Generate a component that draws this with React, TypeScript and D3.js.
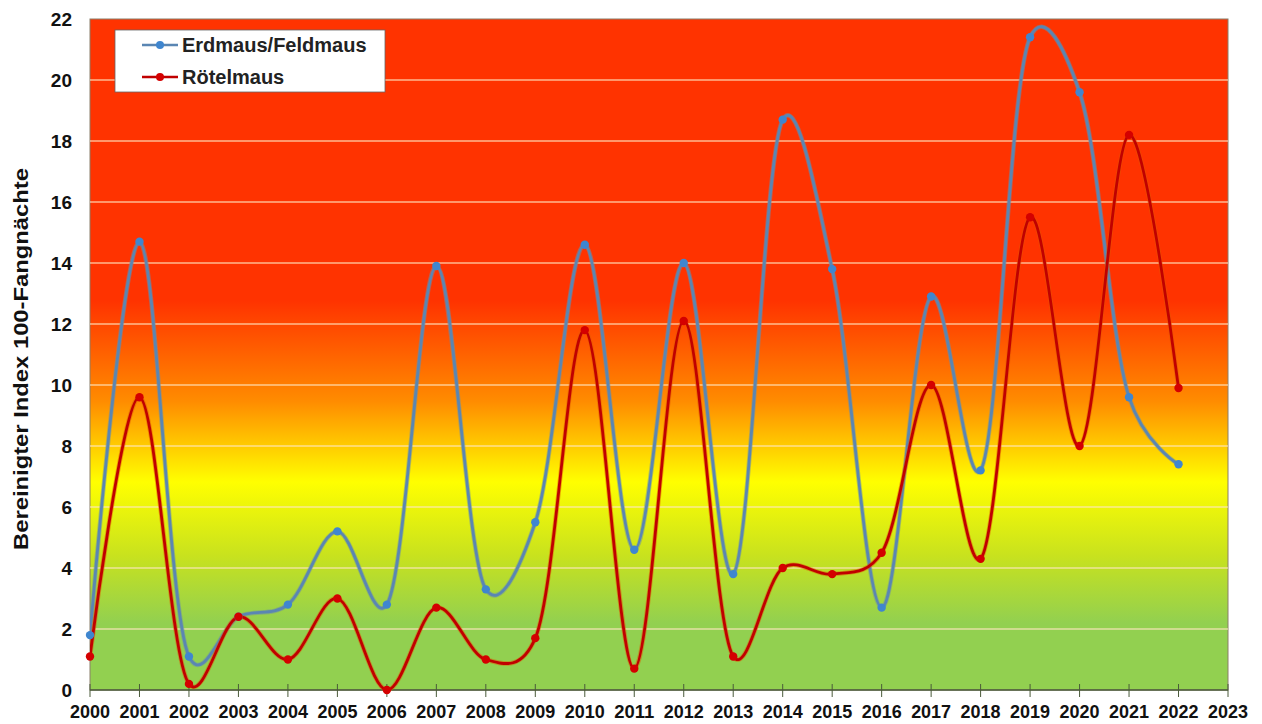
import React from "react";
import * as d3 from "d3";

const years = [2000, 2001, 2002, 2003, 2004, 2005, 2006, 2007, 2008, 2009, 2010, 2011, 2012, 2013, 2014, 2015, 2016, 2017, 2018, 2019, 2020, 2021, 2022];
const erdmaus = [1.8, 14.7, 1.1, 2.4, 2.8, 5.2, 2.8, 13.9, 3.3, 5.5, 14.6, 4.6, 14.0, 3.8, 18.7, 13.8, 2.7, 12.9, 7.2, 21.4, 19.6, 9.6, 7.4];
const roetelmaus = [1.1, 9.6, 0.2, 2.4, 1.0, 3.0, 0.0, 2.7, 1.0, 1.7, 11.8, 0.7, 12.1, 1.1, 4.0, 3.8, 4.5, 10.0, 4.3, 15.5, 8.0, 18.2, 9.9];
const xTicks = d3.range(2000, 2024);
const yTicks = d3.range(0, 23, 2);
const seriesNames = ["Erdmaus/Feldmaus", "Rötelmaus"];
const yTitle = "Bereinigter Index 100-Fangnächte";

const W = 1262, H = 724;
const L = 90, R = 1228, T = 19, B = 690;

export default function App() {
  const x = d3.scaleLinear().domain([2000, 2023]).range([L, R]);
  const y = d3.scaleLinear().domain([0, 22]).range([B, T]);
  const line = d3
    .line<number>()
    .x((_, i) => x(years[i]))
    .y((d) => y(d))
    .curve(d3.curveCatmullRom.alpha(0.2));
  const font = "Liberation Sans, Arial, sans-serif";
  const series = [
    { name: seriesNames[0], data: erdmaus, stroke: "#5a86b3", marker: "#3f86cf", glow: "#6e8fa8" },
    { name: seriesNames[1], data: roetelmaus, stroke: "#c00000", marker: "#d40000", glow: "#e05a00" },
  ];
  return (
    <svg width={W} height={H} style={{ position: "absolute", left: 0, top: 0, background: "#fff" }}>
      <defs>
        <linearGradient id="bg" x1="0" y1="0" x2="0" y2="1">
          <stop offset="0" stopColor="#ff3300" />
          <stop offset="0.42" stopColor="#ff3300" />
          <stop offset="0.57" stopColor="#ff8c00" />
          <stop offset="0.69" stopColor="#ffff00" />
          <stop offset="0.8" stopColor="#c8e21e" />
          <stop offset="0.9" stopColor="#92d050" />
          <stop offset="1" stopColor="#92d050" />
        </linearGradient>
        <clipPath id="clip">
          <rect x={L} y={T - 5} width={R - L} height={B - T + 10} />
        </clipPath>
      </defs>
      <rect x={L} y={T} width={R - L} height={B - T} fill="url(#bg)" stroke="#8a7f6a" strokeWidth={1} />
      {yTicks.filter((t) => t > 0 && t < 22).map((t) => (
        <line key={t} x1={L} x2={R} y1={y(t)} y2={y(t)} stroke="#ffe6c0" strokeOpacity={0.75} strokeWidth={1.5} />
      ))}
      <line x1={L} x2={R} y1={B} y2={B} stroke="#4a5a3a" strokeWidth={1.5} />
      {xTicks.map((t) => (
        <g key={t}>
          <line x1={x(t)} x2={x(t)} y1={B - 6} y2={B + 7} stroke="#4a5a3a" strokeWidth={1} />
          <text
            x={x(t)}
            y={718}
            textAnchor="middle"
            fontFamily={font}
            fontWeight="bold"
            fontSize={18}
            textLength={40}
            lengthAdjust="spacingAndGlyphs"
            fill="#111"
          >
            {t}
          </text>
        </g>
      ))}
      {yTicks.map((t) => (
        <text key={t} x={72} y={y(t) + 7} textAnchor="end" fontFamily={font} fontWeight="bold" fontSize={19} fill="#111">
          {t}
        </text>
      ))}
      <text
        transform={`translate(28, 359) rotate(-90)`}
        textAnchor="middle"
        fontFamily={font}
        fontWeight="bold"
        fontSize={21}
        textLength={382}
        lengthAdjust="spacingAndGlyphs"
        fill="#111"
      >
        {yTitle}
      </text>
      <g clipPath="url(#clip)">
        {series.map((s) => (
          <g key={s.name}>
            <path d={line(s.data) || ""} fill="none" stroke={s.glow} strokeOpacity={0.5} strokeWidth={4.5} />
            <path d={line(s.data) || ""} fill="none" stroke={s.stroke} strokeWidth={2.8} />
          </g>
        ))}
      </g>
      {series.map((s) =>
        s.data.map((v, i) => <circle key={s.name + i} cx={x(years[i])} cy={y(v)} r={4.2} fill={s.marker} />)
      )}
      <rect x={115} y={30} width={270} height={62} fill="#fff" stroke="#666" strokeWidth={0.8} />
      {series.map((s, i) => (
        <g key={s.name} transform={`translate(0, ${45 + i * 32})`}>
          <line x1={142} x2={178} y1={0} y2={0} stroke={s.stroke} strokeWidth={2.5} />
          <circle cx={160} cy={0} r={4} fill={s.marker} />
          <text x={182} y={7} fontFamily={font} fontWeight="bold" fontSize={20} fill="#222">
            {s.name}
          </text>
        </g>
      ))}
    </svg>
  );
}
